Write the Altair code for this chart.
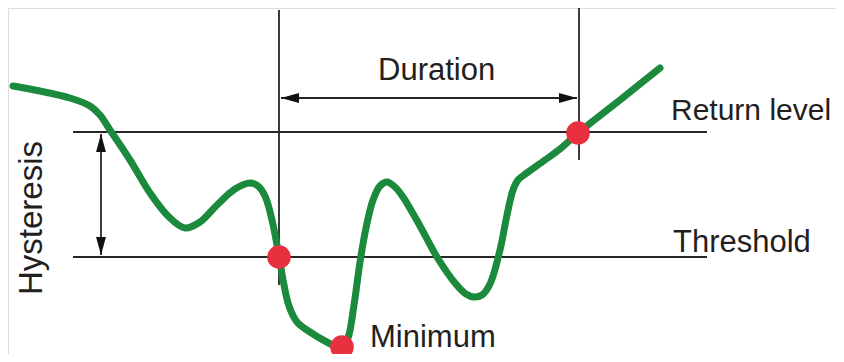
import altair as alt
import pandas as pd

# Curve (image pixel coordinates)
curve_x = [13, 40, 70, 90, 100, 110, 130, 150, 168, 185, 200, 217, 235, 250, 258, 265, 272, 279,
           284, 289, 297, 310, 325, 342, 348, 354, 360, 366, 373, 380, 387, 395, 403, 420, 437,
           455, 466, 474, 482, 490, 500, 507, 513, 518, 524, 545, 560, 578, 620, 660]
curve_y = [86, 91, 98, 106, 115, 130, 160, 193, 216, 228, 222, 205, 189, 183, 186, 196, 220, 256,
           285, 306, 322, 332, 341, 348, 338, 305, 262, 228, 200, 186, 182, 187, 197, 226, 257,
           283, 294, 297, 295, 284, 250, 215, 190, 180, 175, 160, 149, 133, 100, 68]

# Marked points
dot_x = [279, 342, 578]
dot_y = [257, 347, 133]

# Reference lines / arrows (x, y, x2, y2)
seg_x = [73, 73, 279, 579, 281, 101]
seg_y = [132, 257, 10, 8, 98, 134]
seg_x2 = [707, 707, 279, 579, 577, 101]
seg_y2 = [132, 257, 285, 160, 98, 255]

# Labels
label_text = ["Duration", "Return level", "Threshold", "Minimum"]
label_x = [378, 671, 673, 370]
label_y = [80, 120, 252, 347]
label_size = [31, 30, 31, 31]

W, H = 828, 346
xs = alt.Scale(domain=[8, 8 + W], nice=False, zero=False)
ys = alt.Scale(domain=[8, 8 + H], nice=False, zero=False, reverse=True)

curve_df = pd.DataFrame({"x": curve_x, "y": curve_y, "o": range(len(curve_x))})
dots_df = pd.DataFrame({"x": dot_x, "y": dot_y})
seg_df = pd.DataFrame({"x": seg_x, "y": seg_y, "x2": seg_x2, "y2": seg_y2})
lab_df = pd.DataFrame({"t": label_text, "x": label_x, "y": label_y, "s": label_size})

X = alt.X("x:Q", scale=xs, axis=None)
Y = alt.Y("y:Q", scale=ys, axis=None)

rules = alt.Chart(seg_df).mark_rule(color="#262626", strokeWidth=1.8).encode(
    x=X, y=Y, x2="x2:Q", y2="y2:Q")

line = alt.Chart(curve_df).mark_line(
    color="#1b8a3c", strokeWidth=7, interpolate="catmull-rom", strokeCap="round",
    strokeJoin="round").encode(x=X, y=Y, order="o:Q")

dots = alt.Chart(dots_df).mark_point(
    shape="circle", filled=True, color="#e8303f", opacity=1, size=560).encode(x=X, y=Y)

def head(px, py, path):
    d = pd.DataFrame({"x": [px], "y": [py]})
    return alt.Chart(d).mark_point(shape=path, filled=True, color="#111111", opacity=1,
                                   size=324, strokeWidth=0).encode(x=X, y=Y)

heads = [
    head(290, 98, "M -1 0 L 1 -0.55 L 1 0.55 Z"),
    head(568, 98, "M 1 0 L -1 -0.55 L -1 0.55 Z"),
    head(101, 143, "M 0 -1 L -0.55 1 L 0.55 1 Z"),
    head(101, 246, "M 0 1 L -0.55 -1 L 0.55 -1 Z"),
]

labels = alt.Chart(lab_df).mark_text(
    font="Liberation Sans", color="#231f20", align="left",
    baseline="alphabetic").encode(x=X, y=Y, text="t:N", size=alt.Size("s:Q", scale=None, legend=None))

hyst = alt.Chart(pd.DataFrame({"t": ["Hysteresis"], "x": [42], "y": [218]})).mark_text(
    font="Liberation Sans", fontSize=33, color="#231f20", align="center",
    baseline="alphabetic", angle=270).encode(x=X, y=Y, text="t:N")

chart = alt.layer(rules, line, dots, *heads, labels, hyst).properties(
    width=W, height=H, autosize=alt.AutoSizeParams(type="none"), padding=0
).configure_view(stroke="transparent", strokeWidth=0).configure(background="transparent")

chart.save("out.html", embed_options={"renderer": "svg", "actions": False})
